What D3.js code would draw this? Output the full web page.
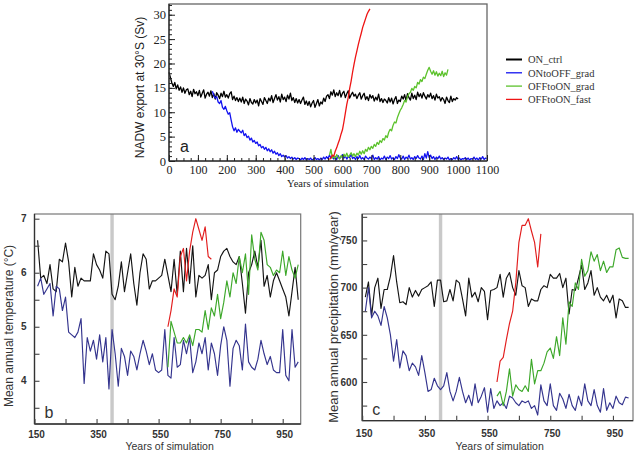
<!DOCTYPE html>
<html><head><meta charset="utf-8">
<script src="https://cdn.jsdelivr.net/npm/d3@7"></script>
<style>
body{margin:0;background:#fff;}
svg{display:block;}
</style></head>
<body>
<svg id="chart" width="638" height="451"></svg>
<script>
// ---------------- DATA ----------------
const seriesNames = ["ON_ctrl", "ONtoOFF_grad", "OFFtoON_grad", "OFFtoON_fast"];

// Panel a: NADW export (Sv), 5-year samples
const nadwCtrlStart = 0;
const nadwCtrl = [
18.2,17.1,16.0,15.3,16.1,14.8,15.6,14.5,15.2,14.1,
15.0,13.9,14.6,14.8,13.6,14.3,13.2,14.7,13.8,14.2,
13.4,14.5,13.1,13.9,14.6,12.9,13.7,14.1,13.3,14.4,
13.0,13.8,12.7,14.0,13.5,12.8,13.9,13.2,14.3,13.1,
13.6,12.9,13.8,14.2,12.6,13.3,12.4,13.0,12.2,12.9,
12.1,13.1,11.8,12.7,12.3,11.5,12.8,12.0,11.7,12.6,
11.9,12.5,11.3,12.8,12.2,11.6,13.0,12.4,11.8,12.9,
12.3,13.4,12.0,12.8,13.6,12.5,13.2,12.1,13.7,12.6,
13.1,12.2,13.5,12.7,13.9,12.4,13.0,12.0,12.8,11.9,
12.6,11.8,12.5,13.1,11.6,12.3,11.4,12.2,11.1,11.9,
12.4,11.0,11.8,12.6,11.3,12.1,11.7,12.9,12.2,13.3,
13.6,12.8,14.2,13.5,14.6,13.2,14.0,13.4,14.5,13.1,
13.9,14.3,13.0,13.8,14.4,12.9,13.6,14.1,13.3,13.7,
12.8,13.5,14.0,12.7,13.4,13.9,12.6,13.2,12.4,13.6,
12.9,13.4,12.3,13.1,12.5,13.7,12.2,12.8,12.0,12.7,
12.4,11.9,13.0,12.1,12.9,11.7,12.6,13.2,11.8,12.5,
12.2,13.3,12.7,13.6,12.4,13.8,13.0,12.5,13.9,12.8,
13.5,12.6,14.1,13.2,13.8,12.9,14.0,13.3,12.7,13.6,
13.1,13.9,12.8,13.4,12.5,13.7,12.9,13.2,12.3,13.0,
12.6,11.8,13.1,12.4,12.0,13.3,12.2,12.8,12.5,13.0,
12.7];
const nadwOffStart = 150;
const nadwOff = [
14.3,13.5,12.9,13.2,12.1,11.8,12.4,11.0,10.6,11.2,
10.3,9.6,9.9,8.4,7.0,6.2,6.8,5.9,6.5,6.1,
5.8,6.3,5.2,5.6,4.8,5.1,4.3,4.7,3.9,4.2,
3.6,3.9,3.1,3.4,2.7,3.0,2.4,2.8,2.1,2.5,
1.9,2.3,1.6,2.0,1.4,1.7,1.1,1.5,0.9,1.2,
0.8,1.1,0.6,0.9,0.5,0.8,0.4,0.7,0.3,0.6,
0.5,0.2,0.6,0.3,0.7,0.2,0.5,0.3,0.6,0.2,
0.4,0.7,0.3,0.5,0.2,0.6,0.3,0.8,0.4,0.9,
0.5,1.2,0.6,1.0,0.4,0.9,0.3,1.1,0.5,0.8,
1.3,0.6,1.0,0.4,0.9,0.7,1.4,0.5,0.8,0.3,
0.9,0.5,1.1,0.4,0.7,0.3,1.0,0.6,0.4,0.8,
0.5,1.2,0.3,0.7,0.4,0.9,0.2,0.6,0.4,1.0,
0.3,0.8,0.5,1.1,0.4,0.7,0.3,0.9,0.5,1.3,
0.6,0.4,1.0,0.3,0.8,0.5,1.2,0.4,0.7,0.3,
0.9,0.5,1.1,0.6,0.4,1.0,0.3,1.5,0.6,1.9,
0.7,1.2,0.5,0.9,0.3,0.8,0.5,1.0,0.4,0.7,
0.3,0.6,0.4,0.8,0.2,0.5,0.3,0.7,0.4,0.9,
0.3,0.6,0.2,0.5,0.4,0.7,0.3,0.6,0.2,0.5,
0.4,0.8,0.3,0.6,0.2,0.7,0.4,0.9,0.3,0.6,
0.5];
const nadwGradStart = 555;
const nadwGrad = [
1.2,2.4,0.6,1.0,0.5,1.3,0.8,0.4,1.1,
0.7,1.4,0.9,1.6,0.8,1.2,1.7,1.0,1.5,0.9,
1.6,1.2,2.0,1.4,2.1,1.5,2.4,2.0,2.8,2.3,
3.0,2.6,3.4,3.0,3.8,3.4,4.2,3.8,4.6,4.3,
5.2,4.8,5.9,6.5,6.2,7.3,8.0,7.8,8.9,9.7,
10.4,10.9,11.6,12.4,12.1,13.2,13.8,14.1,14.9,14.5,
15.3,15.0,16.1,15.8,16.7,16.3,17.2,16.9,17.8,18.6,
19.2,18.4,17.8,18.5,17.6,18.3,17.4,18.0,17.5,18.4,
17.3,18.1,17.6,18.8];
const nadwFastStart = 555;
const nadwFast = [0.3,0.6,1.2,1.0,2.0,2.7,3.6,4.4,5.5,6.4,8.0,9.8,11.6,13.0,14.9,16.4,18.2,19.8,21.3,22.6,23.9,25.1,26.2,27.4,28.3,29.2,30.1,30.7,31.2];

// Panel b: mean annual temperature (°C), decadal
const tempCtrlStart = 160;
const tempCtrl = [
6.6,5.9,5.95,5.8,6.15,5.7,5.65,6.25,6.2,6.55,
6.2,5.55,6.1,5.75,5.9,5.85,5.85,5.85,6.35,6.15,
6.05,5.9,6.4,6.35,5.6,5.5,5.75,6.2,5.65,6.0,
6.35,5.8,5.4,6.0,6.35,6.25,5.7,5.85,5.85,5.9,
5.95,6.25,5.95,5.65,6.25,5.6,6.4,5.65,6.45,5.8,
6.5,5.55,5.95,5.9,5.95,6.15,5.5,6.0,6.05,6.3,
6.4,6.45,6.3,6.2,6.15,6.3,5.8,5.25,6.0,6.15,
6.4,6.1,6.6,5.75,5.95,5.55,5.85,6.0,5.85,5.7,
5.55,5.2,5.65,6.1,5.5];
const tempOffStart = 160;
const tempOff = [
5.75,5.9,5.6,5.7,5.8,5.2,5.75,5.7,5.3,5.55,
4.9,4.85,4.8,4.9,5.15,3.95,4.8,4.55,4.75,4.4,
4.85,4.35,4.8,3.85,4.95,4.5,3.9,4.6,4.45,4.1,
4.55,4.45,4.2,4.5,4.75,4.55,4.3,4.5,4.2,4.15,
4.2,4.95,4.1,4.05,4.8,4.25,4.3,4.75,4.5,4.8,
4.15,4.35,4.7,4.5,4.8,4.2,4.7,4.5,4.1,4.65,
5.0,4.75,3.9,4.6,4.75,4.65,4.2,5.05,4.35,4.25,
4.2,4.4,4.75,4.5,4.3,4.45,4.2,4.15,4.15,4.95,
4.1,4.0,4.95,4.25,4.35];
const tempGradStart = 580;
const tempGrad = [
4.25,5.1,4.9,4.7,4.7,4.8,4.7,4.85,4.65,4.95,
4.95,4.9,5.3,4.95,5.35,5.2,5.6,5.15,5.45,5.85,
5.55,6.0,5.8,6.3,6.0,6.35,5.6,6.7,6.25,6.05,
6.75,6.6,6.15,6.1,5.95,6.05,6.0,6.4,5.95,6.3,
6.05,5.9,6.15];
const tempFastStart = 580;
const tempFast = [5.0,5.3,5.7,5.55,6.3,6.45,5.85,6.4,6.75,7.0,6.8,6.6,6.85,6.3,6.25];

// Panel c: mean annual precipitation (mm/year), decadal
const precCtrlStart = 160;
const precCtrl = [
690,706,670,700,710,678,698,698,712,734,
706,684,685,682,700,690,697,691,698,700,
702,706,680,708,708,685,686,698,686,708,
705,688,670,710,690,695,685,700,696,666,
697,698,700,714,690,710,716,700,692,718,
702,700,680,688,686,686,698,702,700,714,
710,710,715,700,710,672,698,697,710,724,
698,705,718,692,700,690,686,692,684,692,
668,688,686,679,679];
const precOffStart = 160;
const precOff = [
675,700,668,675,670,660,680,668,650,622,
645,615,633,628,612,620,616,607,628,610,
590,592,604,596,592,596,610,590,580,590,
605,590,578,586,575,598,578,585,594,568,
593,572,580,575,578,572,585,583,578,575,
580,578,580,572,575,565,597,580,575,598,
575,570,588,582,572,587,575,570,585,575,
598,580,575,592,575,568,593,570,578,572,
585,578,576,584,583];
const precGradStart = 580;
const precGrad = [
585,590,575,590,614,585,597,592,590,596,
590,624,598,612,612,620,632,636,625,648,
628,668,640,685,680,705,698,730,712,718,
738,728,735,718,728,716,722,722,740,742,
732,731,731];
const precFastStart = 580;
const precFast = [600,622,626,645,662,675,705,748,766,766,773,760,748,722,757];

// Tick values
const aXTicks = [0,100,200,300,400,500,600,700,800,900,1000,1100];
const aYTicks = [0,5,10,15,20,25,30];
const bcXTicks = [150,350,550,750,950];
const tempTicks = [4,5,6,7];
const precTicks = [600,650,700,750];
const markerYear = 400;

// ---------------- DRAW ----------------
const svg = d3.select("#chart");
const pts = (arr, start, step) => arr.map((v, i) => [start + i * step, v]);
const fmt = d3.format("d");

const colA = {ON_ctrl:"#000000", ONtoOFF_grad:"#1212f0", OFFtoON_grad:"#5cc22c", OFFtoON_fast:"#ee1414"};
const colBC = {ON_ctrl:"#141414", ONtoOFF_grad:"#34348e", OFFtoON_grad:"#3da82a", OFFtoON_fast:"#e21d1d"};

// ===== Panel a =====
const xA = d3.scaleLinear().domain([0,1100]).range([169,487]);
const yA = d3.scaleLinear().domain([0,32.2]).range([161,4]);
const gA = svg.append("g");
const serif = "'Liberation Serif','Times New Roman',serif";
const sans = "'Liberation Sans',Arial,sans-serif";

const lineA = d3.line().x(d => xA(d[0])).y(d => yA(d[1]));
const dataA = [
  ["ON_ctrl", pts(nadwCtrl, nadwCtrlStart, 5)],
  ["ONtoOFF_grad", pts(nadwOff, nadwOffStart, 5)],
  ["OFFtoON_grad", pts(nadwGrad, nadwGradStart, 5)],
  ["OFFtoON_fast", pts(nadwFast, nadwFastStart, 5)]
];
dataA.forEach(([n, d]) => {
  gA.append("path").attr("d", lineA(d)).attr("fill","none")
    .attr("stroke", colA[n]).attr("stroke-width", 1.3).attr("stroke-linejoin","round");
});

// frame
gA.append("rect").attr("x", 169).attr("y", 4).attr("width", 318).attr("height", 157)
  .attr("fill","none").attr("stroke","#666").attr("stroke-width",1.3);
gA.append("line").attr("x1",169).attr("x2",169).attr("y1",4).attr("y2",161).attr("stroke","#111");
gA.append("line").attr("x1",169).attr("x2",487).attr("y1",161).attr("y2",161).attr("stroke","#111");

// minor ticks
const axMinorY = d3.axisLeft(yA).tickValues(d3.range(0,33,1)).tickSizeInner(-3).tickSizeOuter(0).tickFormat("");
gA.append("g").attr("transform","translate(169,0)").call(axMinorY).call(g => g.select(".domain").remove());
const axMinorX = d3.axisBottom(xA).tickValues(d3.range(0,1101,25)).tickSizeInner(-3).tickSizeOuter(0).tickFormat("");
gA.append("g").attr("transform","translate(0,161)").call(axMinorX).call(g => g.select(".domain").remove());
// major
const axAY = d3.axisLeft(yA).tickValues(aYTicks).tickSizeInner(-6).tickSizeOuter(0).tickPadding(3).tickFormat(fmt);
gA.append("g").attr("transform","translate(169,0)").call(axAY)
  .call(g => g.select(".domain").remove())
  .call(g => g.selectAll("text").attr("font-family", serif).attr("font-size", 12.5).attr("fill","#222"));
const axAX = d3.axisBottom(xA).tickValues(aXTicks).tickSizeInner(-6).tickSizeOuter(0).tickPadding(4).tickFormat(fmt);
gA.append("g").attr("transform","translate(0,161)").call(axAX)
  .call(g => g.select(".domain").remove())
  .call(g => g.selectAll("text").attr("font-family", serif).attr("font-size", 12).attr("fill","#222"));
gA.selectAll(".tick line").attr("stroke","#222");

gA.append("text").attr("x", 328).attr("y", 187).attr("text-anchor","middle")
  .attr("font-family", serif).attr("font-size", 10.5).attr("fill","#222").text("Years of simulation");
gA.append("text").attr("transform","translate(144,87.5) rotate(-90)").attr("text-anchor","middle")
  .attr("font-family", sans).attr("font-size", 12).attr("fill","#222").text("NADW export at 30°S (Sv)");
gA.append("text").attr("x", 180).attr("y", 152).attr("font-family", sans).attr("font-size", 16).attr("fill","#222").text("a");

// legend
const lg = svg.append("g");
seriesNames.forEach((n, i) => {
  const y = 59.5 + i * 13.3;
  lg.append("line").attr("x1", 506).attr("x2", 522).attr("y1", y).attr("y2", y)
    .attr("stroke", colA[n]).attr("stroke-width", i === 0 ? 2 : 1.3);
  lg.append("text").attr("x", 528).attr("y", y + 3.8).attr("font-family", serif)
    .attr("font-size", 10.5).attr("fill","#333").text(n);
});

// ===== Panels b & c =====
function panel(opts) {
  const g = svg.append("g");
  const x = d3.scaleLinear().domain(opts.xDomain).range([opts.left, opts.right]);
  const y = d3.scaleLinear().domain(opts.yDomain).range([opts.bottom, opts.top]);
  // grey marker bar
  g.append("rect").attr("x", x(markerYear) - 1.7).attr("y", opts.top).attr("width", 3.4)
    .attr("height", opts.bottom - opts.top).attr("fill", "#c9c9c9");
  const line = d3.line().x(d => x(d[0])).y(d => y(d[1]));
  opts.series.forEach(([n, d]) => {
    g.append("path").attr("d", line(d)).attr("fill","none").attr("stroke", colBC[n])
      .attr("stroke-width", 1.15).attr("stroke-linejoin","round");
  });
  // frame
  g.append("rect").attr("x", opts.left).attr("y", opts.top).attr("width", opts.right - opts.left)
    .attr("height", opts.bottom - opts.top).attr("fill","none").attr("stroke","#777").attr("stroke-width",1.2);
  g.append("line").attr("x1",opts.left).attr("x2",opts.left).attr("y1",opts.top).attr("y2",opts.bottom).attr("stroke","#333").attr("stroke-width",1.3);
  g.append("line").attr("x1",opts.left).attr("x2",opts.right).attr("y1",opts.bottom).attr("y2",opts.bottom).attr("stroke","#333").attr("stroke-width",1.3);

  const ticksY = d3.axisLeft(y).tickValues(opts.yMinor).tickSizeInner(-5).tickSizeOuter(0).tickFormat("");
  g.append("g").attr("transform",`translate(${opts.left},0)`).call(ticksY).call(s => s.select(".domain").remove());
  const ticksX = d3.axisBottom(x).tickValues(d3.range(150, 1001, 100)).tickSizeInner(-5).tickSizeOuter(0).tickFormat("");
  g.append("g").attr("transform",`translate(0,${opts.bottom})`).call(ticksX).call(s => s.select(".domain").remove());

  const axY = d3.axisLeft(y).tickValues(opts.yTicks).tickSizeInner(0).tickSizeOuter(0).tickPadding(opts.yPad).tickFormat(fmt);
  g.append("g").attr("transform",`translate(${opts.left},0)`).call(axY)
    .call(s => s.select(".domain").remove()).call(s => s.selectAll("line").remove())
    .call(s => s.selectAll("text").attr("font-family", sans).attr("font-size", 10).attr("font-weight","bold").attr("fill","#333"));
  const axX = d3.axisBottom(x).tickValues(bcXTicks).tickSizeInner(0).tickSizeOuter(0).tickPadding(opts.xPad).tickFormat(fmt);
  g.append("g").attr("transform",`translate(1.5,${opts.bottom})`).call(axX)
    .call(s => s.select(".domain").remove()).call(s => s.selectAll("line").remove())
    .call(s => s.selectAll("text").attr("font-family", sans).attr("font-size", 10).attr("font-weight","bold").attr("fill","#333"));
  g.selectAll(".tick line").attr("stroke","#444").attr("stroke-width",1.1);

  g.append("text").attr("x", (opts.left + opts.right) / 2 + 2).attr("y", 450)
    .attr("text-anchor","middle").attr("font-family", sans).attr("font-size", 10.5).attr("fill","#333").text("Years of simulation");
  g.append("text").attr("transform",`translate(${opts.ylabX},${opts.ylabY}) rotate(-90)`).attr("text-anchor","middle")
    .attr("font-family", sans).attr("font-size", opts.ylabSize).attr("fill","#333").text(opts.ylab);
  g.append("text").attr("x", opts.left + 10).attr("y", opts.bottom - 6).attr("font-family", sans)
    .attr("font-size", 16).attr("fill","#333").text(opts.letter);
}

panel({
  left: 34.5, right: 300.7, top: 214, bottom: 424,
  xDomain: [150, 1008], yDomain: [3.2, 7.087],
  yTicks: tempTicks, yMinor: d3.range(3.5, 7.01, 0.5), yPad: 8, xPad: 7,
  ylab: "Mean annual temperature (°C)", ylabX: 12.5, ylabY: 326, ylabSize: 12,
  letter: "b",
  series: [
    ["ON_ctrl", pts(tempCtrl, tempCtrlStart, 10)],
    ["ONtoOFF_grad", pts(tempOff, tempOffStart, 10)],
    ["OFFtoON_grad", pts(tempGrad, tempGradStart, 10)],
    ["OFFtoON_fast", pts(tempFast, tempFastStart, 10)]
  ]
});

panel({
  left: 362.2, right: 633, top: 214, bottom: 420.7,
  xDomain: [150, 1014], yDomain: [559, 778],
  yTicks: precTicks, yMinor: d3.range(575, 776, 25), yPad: 5, xPad: 9,
  ylab: "Mean annual precipitation (mm/year)", ylabX: 337.5, ylabY: 317, ylabSize: 13,
  letter: "c",
  series: [
    ["ON_ctrl", pts(precCtrl, precCtrlStart, 10)],
    ["ONtoOFF_grad", pts(precOff, precOffStart, 10)],
    ["OFFtoON_grad", pts(precGrad, precGradStart, 10)],
    ["OFFtoON_fast", pts(precFast, precFastStart, 10)]
  ]
});
</script>
</body></html>
